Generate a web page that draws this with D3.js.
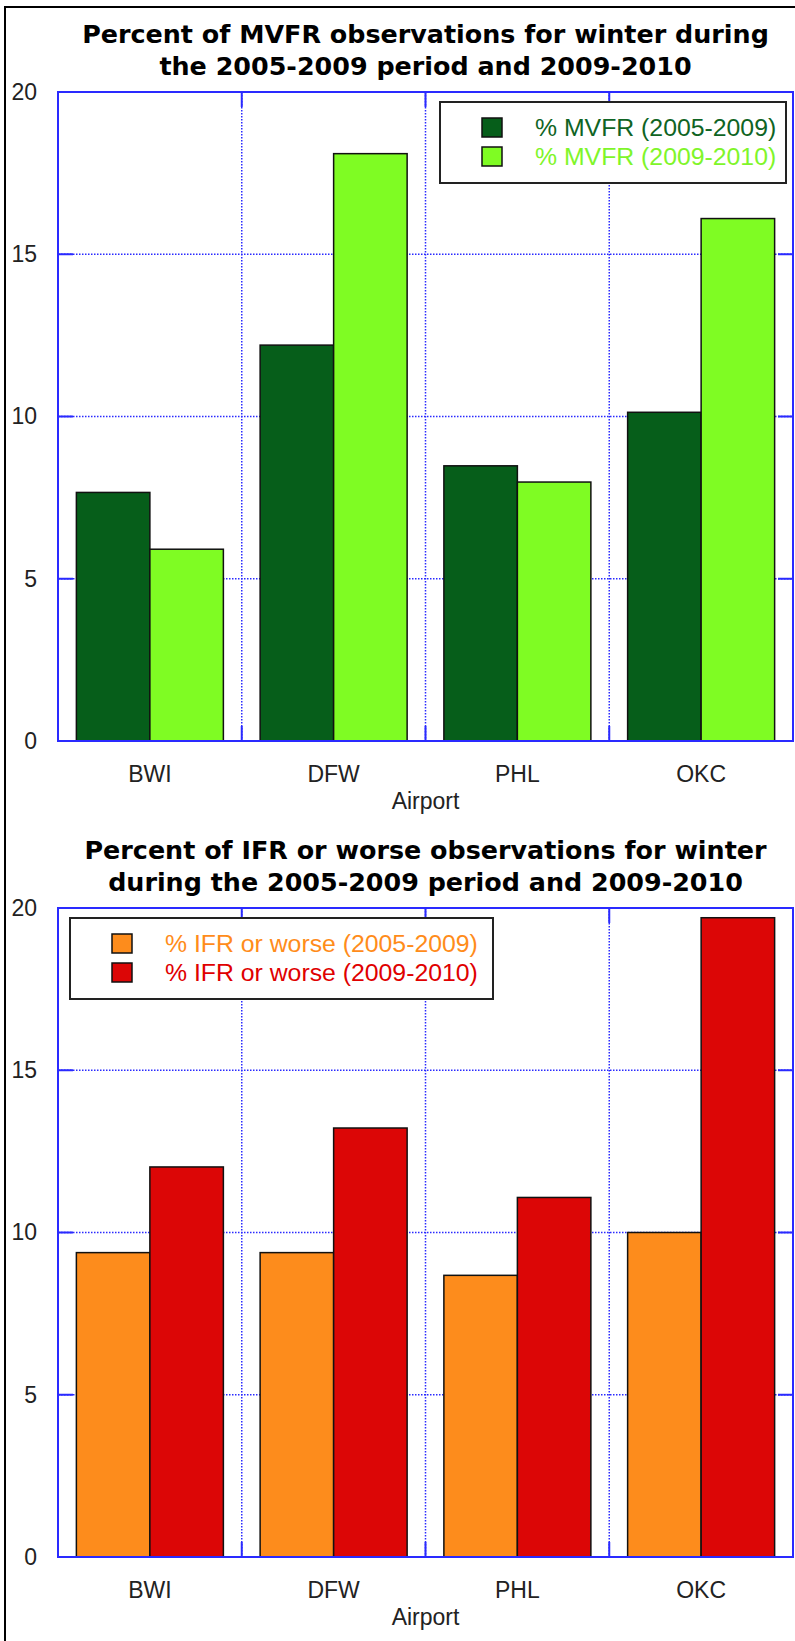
<!DOCTYPE html>
<html>
<head>
<meta charset="utf-8">
<script src="https://cdn.jsdelivr.net/npm/d3@7"></script>
<style>
  body { margin: 0; background: #fff; }
  svg { display: block; }
</style>
</head>
<body>
<div class="graph"></div>
<script>
// airports on the x axis
const airports = ["BWI", "DFW", "PHL", "OKC"];
const yTicks = [0, 5, 10, 15, 20];

// top panel: % MVFR
const mvfr0509 = [7.66, 12.2, 8.48, 10.13];
const mvfr0910 = [5.91, 18.1, 7.98, 16.1];
const mvfrLabels = ["% MVFR (2005-2009)", "% MVFR (2009-2010)"];
const mvfrTitle = ["Percent of MVFR observations for winter during", "the 2005-2009 period and 2009-2010"];

// bottom panel: % IFR or worse
const ifr0509 = [9.38, 9.38, 8.68, 10.0];
const ifr0910 = [12.02, 13.22, 11.08, 19.7];
const ifrLabels = ["% IFR or worse (2005-2009)", "% IFR or worse (2009-2010)"];
const ifrTitle = ["Percent of IFR or worse observations for winter", "during the 2005-2009 period and 2009-2010"];

const W = 795, H = 1641;
const blue = "#2a2aff";

const svg = d3.select(".graph").append("svg")
    .attr("width", W)
    .attr("height", H);

// outer frame (runs off the right and bottom edge)
svg.append("rect")
    .attr("x", 5).attr("y", 7)
    .attr("width", W + 20).attr("height", H + 20)
    .attr("fill", "none")
    .attr("stroke", "#000")
    .attr("stroke-width", 2);

function drawPanel(opts) {
    const left = 58, right = 793;
    const top = opts.top, bottom = opts.top + 649;

    const x = d3.scaleBand()
        .domain(airports)
        .range([left, right])
        .paddingInner(0.2)
        .paddingOuter(0.1);
    const x1 = d3.scaleBand().domain([0, 1]).range([0, x.bandwidth()]);
    const y = d3.scaleLinear().domain([0, 20]).range([bottom, top]);

    const g = svg.append("g");

    // dotted grid
    const bounds = d3.range(1, airports.length).map(i => left + i * x.step());
    g.selectAll(".hgrid").data(yTicks.slice(1, -1)).enter().append("line")
        .attr("x1", left).attr("x2", right)
        .attr("y1", d => y(d)).attr("y2", d => y(d))
        .attr("stroke", blue).attr("stroke-width", 1.5)
        .attr("stroke-dasharray", "1.5,1.5");
    g.selectAll(".vgrid").data(bounds).enter().append("line")
        .attr("x1", d => d).attr("x2", d => d)
        .attr("y1", top).attr("y2", bottom)
        .attr("stroke", blue).attr("stroke-width", 1.5)
        .attr("stroke-dasharray", "1.5,1.5");

    // solid tick marks on the inside of the frame
    yTicks.slice(1, -1).forEach(v => {
        g.append("line").attr("x1", left).attr("x2", left + 15)
            .attr("y1", y(v)).attr("y2", y(v)).attr("stroke", blue).attr("stroke-width", 2);
        g.append("line").attr("x1", right - 15).attr("x2", right)
            .attr("y1", y(v)).attr("y2", y(v)).attr("stroke", blue).attr("stroke-width", 2);
    });
    bounds.forEach(b => {
        g.append("line").attr("x1", b).attr("x2", b)
            .attr("y1", top).attr("y2", top + 15).attr("stroke", blue).attr("stroke-width", 2);
        g.append("line").attr("x1", b).attr("x2", b)
            .attr("y1", bottom - 15).attr("y2", bottom).attr("stroke", blue).attr("stroke-width", 2);
    });

    // bars
    const rows = airports.map((a, i) => ({ airport: a, vals: [opts.s0[i], opts.s1[i]] }));
    const grp = g.selectAll(".grp").data(rows).enter().append("g")
        .attr("transform", d => `translate(${x(d.airport)},0)`);
    grp.selectAll("rect").data(d => d.vals).enter().append("rect")
        .attr("x", (d, j) => x1(j))
        .attr("y", d => y(d))
        .attr("width", x1.bandwidth())
        .attr("height", d => bottom - y(d))
        .attr("fill", (d, j) => opts.colors[j])
        .attr("stroke", "#111")
        .attr("stroke-width", 1.5);

    // frame
    g.append("rect")
        .attr("x", left).attr("y", top)
        .attr("width", right - left).attr("height", bottom - top)
        .attr("fill", "none").attr("stroke", blue).attr("stroke-width", 2);

    // axes (labels only)
    const yAxis = g.append("g")
        .attr("transform", `translate(${left},0)`)
        .call(d3.axisLeft(y).tickValues(yTicks).tickSize(0).tickPadding(21));
    const xAxis = g.append("g")
        .attr("transform", `translate(0,${bottom})`)
        .call(d3.axisBottom(x).tickSize(0).tickPadding(25));
    [yAxis, xAxis].forEach(ax => {
        ax.select(".domain").remove();
        ax.selectAll("text")
            .attr("font-family", "'Liberation Sans', Arial, sans-serif")
            .attr("font-size", 23)
            .attr("fill", "#222");
    });

    g.append("text")
        .attr("x", (left + right) / 2).attr("y", bottom + 68)
        .attr("text-anchor", "middle")
        .attr("font-family", "'Liberation Sans', Arial, sans-serif")
        .attr("font-size", 23)
        .attr("fill", "#222")
        .text("Airport");

    // title
    opts.title.forEach((t, i) => {
        g.append("text")
            .attr("x", (left + right) / 2)
            .attr("y", top - 49 + i * 32)
            .attr("text-anchor", "middle")
            .attr("font-family", "'DejaVu Sans', Verdana, sans-serif")
            .attr("font-weight", "bold")
            .attr("font-size", 25.4)
            .attr("fill", "#000")
            .text(t);
    });

    // legend
    const lg = g.append("g").attr("transform", `translate(${opts.legend[0]},${top + 10})`);
    lg.append("rect")
        .attr("x", 0).attr("y", 0)
        .attr("width", opts.legend[1]).attr("height", 81)
        .attr("fill", "#fff").attr("stroke", "#222").attr("stroke-width", 2);
    opts.labels.forEach((lab, j) => {
        lg.append("rect")
            .attr("x", 42).attr("y", 16 + j * 29)
            .attr("width", 20).attr("height", 19)
            .attr("fill", opts.colors[j]).attr("stroke", "#111").attr("stroke-width", 1.5);
        lg.append("text")
            .attr("x", 95).attr("y", 25.5 + j * 29)
            .attr("dy", "0.36em")
            .attr("font-family", "'Liberation Sans', Arial, sans-serif")
            .attr("font-size", 24.8)
            .attr("fill", opts.textColors[j])
            .text(lab);
    });
}

drawPanel({
    top: 92,
    s0: mvfr0509, s1: mvfr0910,
    colors: ["#065e1a", "#7ffc23"],
    textColors: ["#0f6424", "#7ff52a"],
    labels: mvfrLabels,
    title: mvfrTitle,
    legend: [440, 346]
});

drawPanel({
    top: 908,
    s0: ifr0509, s1: ifr0910,
    colors: ["#fd8c1c", "#dc0606"],
    textColors: ["#ff8c1a", "#e00000"],
    labels: ifrLabels,
    title: ifrTitle,
    legend: [70, 423]
});
</script>
</body>
</html>
